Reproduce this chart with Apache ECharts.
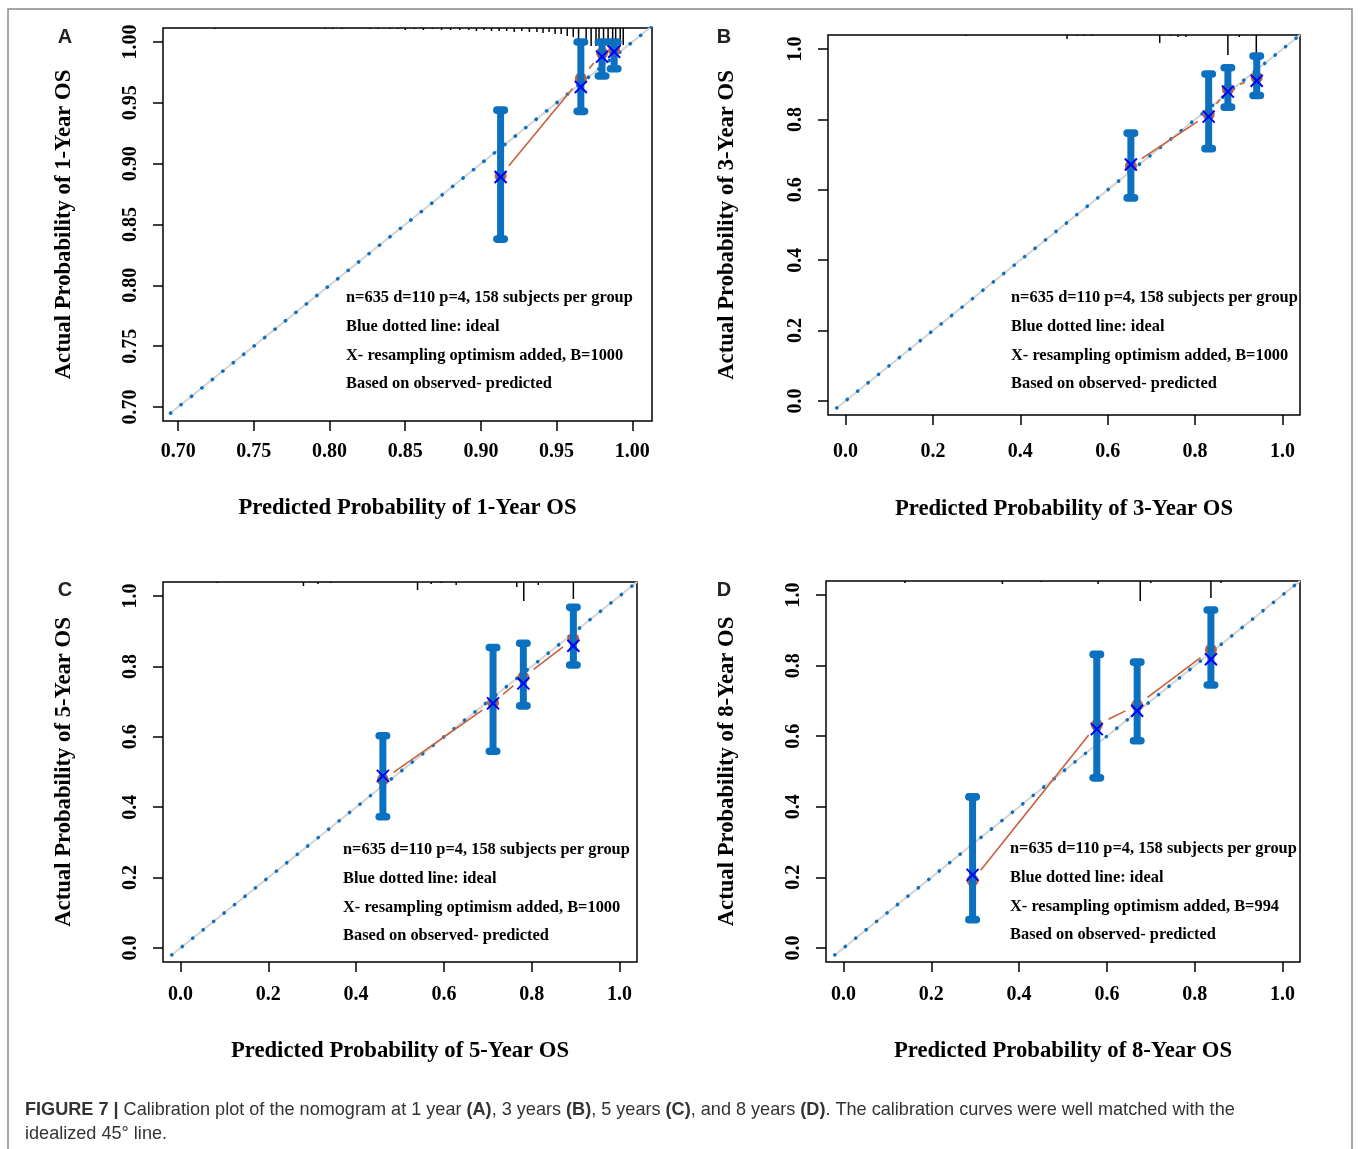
<!DOCTYPE html>
<html>
<head>
<meta charset="utf-8">
<script src="https://cdn.jsdelivr.net/npm/echarts@6/dist/echarts.min.js"></script>
<style>
  html, body { margin: 0; padding: 0; background: #fff; }
  #chart { width: 1360px; height: 1149px; }
</style>
</head>
<body>
<div id="chart"></div>
<script>
// ---- data ----
// A: 1-year
const predA = [0.913, 0.966, 0.980, 0.988]
const obsA = [0.890, 0.970, 0.991, 0.993]
const corrA = [0.889, 0.963, 0.988, 0.992]
const loA = [0.838, 0.943, 0.972, 0.978]
const hiA = [0.944, 1.000, 1.000, 1.000]
const rugAx = [0.724, 0.797, 0.802, 0.808, 0.827, 0.832, 0.840, 0.845, 0.850, 0.856, 0.862, 0.868, 0.874, 0.880, 0.886, 0.892, 0.897, 0.902, 0.907, 0.912, 0.917, 0.922, 0.927, 0.932, 0.937, 0.941, 0.945, 0.949, 0.953, 0.957, 0.961, 0.9645, 0.9695, 0.9728, 0.976, 0.978, 0.981, 0.984, 0.987, 0.989, 0.992, 0.994]
const rugAn = [1, 1, 1, 1, 1, 1, 1, 1, 2, 1, 2, 1, 2, 2, 2, 2, 3, 2, 3, 3, 3, 4, 3, 4, 4, 5, 4, 6, 6, 8, 9, 11, 16, 18, 18, 17, 18, 19, 19, 18, 18, 17]

// B: 3-year
const predB = [0.653, 0.831, 0.875, 0.941]
const obsB = [0.668, 0.815, 0.886, 0.919]
const corrB = [0.672, 0.808, 0.879, 0.910]
const loB = [0.577, 0.717, 0.835, 0.868]
const hiB = [0.761, 0.929, 0.947, 0.980]
const rugBx = [0.275, 0.507, 0.530, 0.545, 0.565, 0.719, 0.745, 0.761, 0.779, 0.875, 0.901, 0.940]
const rugBn = [1, 4, 1, 1, 1, 8, 1, 2, 2, 20, 2, 22]

// C: 5-year
const predC = [0.461, 0.712, 0.781, 0.895]
const obsC = [0.478, 0.697, 0.769, 0.878]
const corrC = [0.489, 0.695, 0.752, 0.859]
const loC = [0.373, 0.559, 0.688, 0.804]
const hiC = [0.603, 0.854, 0.866, 0.968]
const rugCx = [0.084, 0.280, 0.313, 0.342, 0.540, 0.571, 0.594, 0.628, 0.766, 0.782, 0.815, 0.895]
const rugCn = [1, 4, 2, 1, 8, 2, 1, 3, 5, 19, 3, 17]

// D: 8-year
const predD = [0.294, 0.577, 0.669, 0.837]
const obsD = [0.191, 0.632, 0.688, 0.845]
const corrD = [0.207, 0.620, 0.672, 0.818]
const loD = [0.080, 0.482, 0.587, 0.745]
const hiD = [0.428, 0.832, 0.810, 0.958]
const rugDx = [0.140, 0.362, 0.450, 0.580, 0.676, 0.700, 0.837, 0.860]
const rugDn = [2, 3, 1, 3, 20, 2, 17, 2]

const ticksA = [0.70, 0.75, 0.80, 0.85, 0.90, 0.95, 1.00]
const ticksBCD = [0.0, 0.2, 0.4, 0.6, 0.8, 1.0]

const notesABC = ['n=635 d=110 p=4, 158 subjects per group', 'Blue dotted line: ideal', 'X- resampling optimism added, B=1000', 'Based on observed- predicted']
const notesD = ['n=635 d=110 p=4, 158 subjects per group', 'Blue dotted line: ideal', 'X- resampling optimism added, B=994', 'Based on observed- predicted']

// ---- styling / layout ----
const SERIF = '"Liberation Serif", "Times New Roman", serif'
const SANS = '"Liberation Sans", Arial, sans-serif'
const BLUE = '#0b70bf'
const RED = '#c8603c'
const RUG_PX = 1      // px per rug count
const GAP = 13        // gap of the observed line around each point (type "b")

const panels = [
  { letter: 'A', grid: { left: 163, top: 28, width: 489, height: 393 }, xr: [0.690, 1.013], yr: [0.6885, 1.0115], ideal: [0.695, 1.013],
    ticks: ticksA, dec: 2, pred: predA, obs: obsA, corr: corrA, lo: loA, hi: hiA, rugX: rugAx, rugN: rugAn,
    xname: 'Predicted Probability of 1-Year OS', yname: 'Actual Probability of 1-Year OS', xgap: 76, ygap: 87, xlm: 21,
    notes: notesABC, notePos: [346, 298], letterPos: [65, 37] },
  { letter: 'B', grid: { left: 828, top: 35, width: 472, height: 380 }, xr: [-0.04, 1.04], yr: [-0.04, 1.04], ideal: [-0.02, 1.04],
    ticks: ticksBCD, dec: 1, pred: predB, obs: obsB, corr: corrB, lo: loB, hi: hiB, rugX: rugBx, rugN: rugBn,
    xname: 'Predicted Probability of 3-Year OS', yname: 'Actual Probability of 3-Year OS', xgap: 83, ygap: 89, xlm: 27,
    notes: notesABC, notePos: [1011, 298], letterPos: [724, 37] },
  { letter: 'C', grid: { left: 163, top: 582, width: 474, height: 380 }, xr: [-0.04, 1.04], yr: [-0.04, 1.04], ideal: [-0.02, 1.04],
    ticks: ticksBCD, dec: 1, pred: predC, obs: obsC, corr: corrC, lo: loC, hi: hiC, rugX: rugCx, rugN: rugCn,
    xname: 'Predicted Probability of 5-Year OS', yname: 'Actual Probability of 5-Year OS', xgap: 78, ygap: 87, xlm: 23,
    notes: notesABC, notePos: [343, 850], letterPos: [65, 590] },
  { letter: 'D', grid: { left: 826, top: 581, width: 474, height: 381 }, xr: [-0.04, 1.04], yr: [-0.04, 1.04], ideal: [-0.02, 1.04],
    ticks: ticksBCD, dec: 1, pred: predD, obs: obsD, corr: corrD, lo: loD, hi: hiD, rugX: rugDx, rugN: rugDn,
    xname: 'Predicted Probability of 8-Year OS', yname: 'Actual Probability of 8-Year OS', xgap: 78, ygap: 87, xlm: 23,
    notes: notesD, notePos: [1010, 849], letterPos: [724, 590] }
]

const labelStyle = { fontFamily: SERIF, fontWeight: 'bold', fontSize: 20, color: '#000' }
const nameStyle = { fontFamily: SERIF, fontWeight: 'bold', fontSize: 22.7, color: '#000' }

function axisOf(p, i, isX) {
  return {
    type: 'value',
    gridIndex: i,
    position: isX ? 'bottom' : 'left',
    min: isX ? p.xr[0] : p.yr[0],
    max: isX ? p.xr[1] : p.yr[1],
    axisLine: { show: false, onZero: false },
    axisTick: { show: true, inside: false, length: 10, customValues: p.ticks, lineStyle: { color: '#000', width: 1.5 } },
    axisLabel: Object.assign({ customValues: p.ticks, formatter: v => v.toFixed(p.dec), margin: isX ? p.xlm : 22, rotate: isX ? 0 : 90 }, labelStyle),
    splitLine: { show: false },
    name: isX ? p.xname : p.yname,
    nameLocation: 'middle',
    nameGap: isX ? p.xgap : p.ygap,
    nameTextStyle: nameStyle
  }
}

// rug of predicted values hanging from the top of the frame
function rugItem(params, api) {
  const pt = api.coord([api.value(0), 0])
  const top = params.coordSys.y
  return { type: 'line', shape: { x1: pt[0], y1: top, x2: pt[0], y2: top + api.value(1) * RUG_PX }, style: { stroke: '#000', lineWidth: 1.5 } }
}

// observed line drawn with gaps round the points
function segItem(params, api) {
  const a = api.coord([api.value(0), api.value(1)])
  const b = api.coord([api.value(2), api.value(3)])
  const dx = b[0] - a[0], dy = b[1] - a[1]
  const d = Math.sqrt(dx * dx + dy * dy)
  if (d <= 2 * GAP) return null
  const ux = dx / d, uy = dy / d
  return { type: 'line', shape: { x1: a[0] + ux * GAP, y1: a[1] + uy * GAP, x2: b[0] - ux * GAP, y2: b[1] - uy * GAP }, style: { stroke: RED, lineWidth: 1.6 } }
}

function errItem(params, api) {
  const x = api.value(0)
  const lo = api.coord([x, api.value(1)])
  const hi = api.coord([x, api.value(2)])
  return {
    type: 'group',
    children: [
      { type: 'line', shape: { x1: lo[0], y1: lo[1], x2: hi[0], y2: hi[1] }, style: { stroke: BLUE, lineWidth: 7 } },
      { type: 'rect', shape: { x: lo[0] - 7.5, y: lo[1] - 3.8, width: 15, height: 7.6, r: 3.8 }, style: { fill: BLUE } },
      { type: 'rect', shape: { x: hi[0] - 7.5, y: hi[1] - 3.8, width: 15, height: 7.6, r: 3.8 }, style: { fill: BLUE } }
    ]
  }
}

function crossItem(params, api) {
  const c = api.coord([api.value(0), api.value(1)])
  const h = 6
  return {
    type: 'group',
    children: [
      { type: 'line', shape: { x1: c[0] - h, y1: c[1] - h, x2: c[0] + h, y2: c[1] + h }, style: { stroke: '#0000ff', lineWidth: 2 } },
      { type: 'line', shape: { x1: c[0] - h, y1: c[1] + h, x2: c[0] + h, y2: c[1] - h }, style: { stroke: '#0000ff', lineWidth: 2 } }
    ]
  }
}

const series = []
panels.forEach((p, i) => {
  const ax = { xAxisIndex: i, yAxisIndex: i }
  const ideal = [[p.ideal[0], p.ideal[0]], [p.ideal[1], p.ideal[1]]]
  const segs = []
  for (let k = 0; k < p.pred.length - 1; k++) segs.push([p.pred[k], p.obs[k], p.pred[k + 1], p.obs[k + 1]])
  series.push(
    Object.assign({ type: 'custom', z: 1, renderItem: rugItem, data: p.rugX.map((x, k) => [x, p.rugN[k]]), silent: true }, ax),
    Object.assign({ type: 'line', z: 1, data: ideal, symbol: 'none', silent: true, lineStyle: { color: '#d4d4d4', width: 2 } }, ax),
    Object.assign({ type: 'line', z: 2, data: ideal, symbol: 'none', silent: true, lineStyle: { color: BLUE, width: 3.6, type: [0.1, 13.3], cap: 'round' } }, ax),
    Object.assign({ type: 'custom', z: 3, renderItem: segItem, data: segs, silent: true }, ax),
    Object.assign({ type: 'scatter', z: 3, data: p.pred.map((x, k) => [x, p.obs[k]]), symbol: 'circle', symbolSize: 12, itemStyle: { color: RED, opacity: 1 }, silent: true }, ax),
    Object.assign({ type: 'custom', z: 4, renderItem: errItem, data: p.pred.map((x, k) => [x, p.lo[k], p.hi[k]]), silent: true }, ax),
    Object.assign({ type: 'custom', z: 5, renderItem: crossItem, data: p.pred.map((x, k) => [x, p.corr[k]]), silent: true }, ax)
  )
})

const graphic = [
  { type: 'rect', shape: { x: 8, y: 9, width: 1344, height: 1170 }, style: { fill: 'none', stroke: '#8a8a8a', lineWidth: 1.5 }, silent: true }
]
panels.forEach(p => {
  graphic.push({ type: 'text', style: { x: p.letterPos[0], y: p.letterPos[1], text: p.letter, font: 'bold 20px ' + SANS, fill: '#222', align: 'center', verticalAlign: 'middle' } })
  p.notes.forEach((t, k) => {
    graphic.push({ type: 'text', style: { x: p.notePos[0], y: p.notePos[1] + k * 28.7, text: t, font: 'bold 16.4px ' + SERIF, fill: '#000', verticalAlign: 'middle' } })
  })
})
const capRich = { b: { fontFamily: SANS, fontWeight: 'bold', fontSize: 18.1, fill: '#333' } }
graphic.push(
  { type: 'text', style: { x: 25, y: 1110, verticalAlign: 'middle', font: '18.1px ' + SANS, fill: '#333', rich: capRich,
    text: '{b|FIGURE 7 |} Calibration plot of the nomogram at 1 year {b|(A)}, 3 years {b|(B)}, 5 years {b|(C)}, and 8 years {b|(D)}. The calibration curves were well matched with the' } },
  { type: 'text', style: { x: 25, y: 1134, verticalAlign: 'middle', font: '18.1px ' + SANS, fill: '#333', text: 'idealized 45\u00b0 line.' } }
)

const chart = echarts.init(document.getElementById('chart'))
chart.setOption({
  backgroundColor: '#fff',
  animation: false,
  grid: panels.map(p => Object.assign({ show: true, borderColor: '#000', borderWidth: 1.5, backgroundColor: 'transparent', containLabel: false }, p.grid)),
  xAxis: panels.map((p, i) => axisOf(p, i, true)),
  yAxis: panels.map((p, i) => axisOf(p, i, false)),
  series: series,
  graphic: graphic
})
</script>
</body>
</html>
